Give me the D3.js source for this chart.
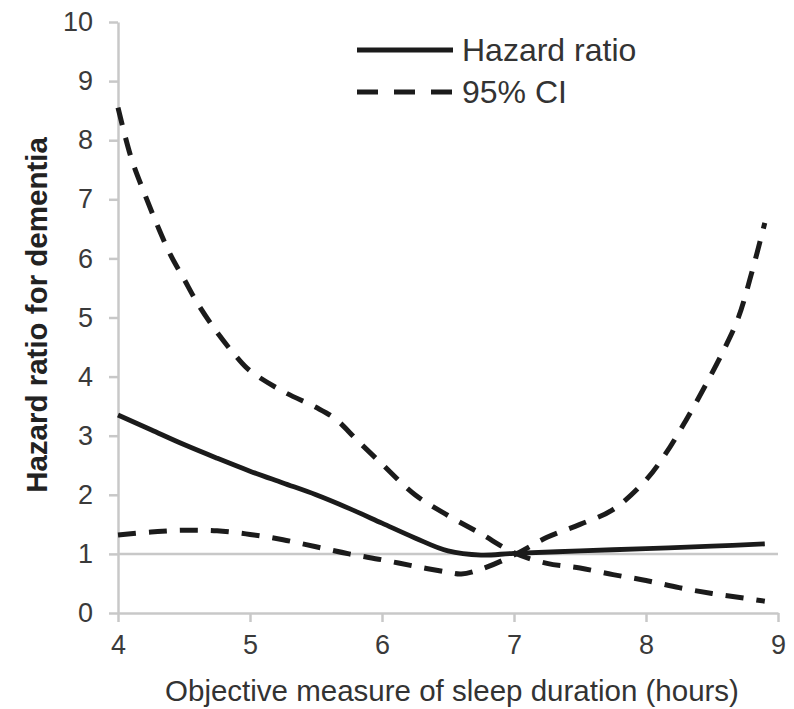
<!DOCTYPE html>
<html>
<head>
<meta charset="utf-8">
<script src="https://cdn.jsdelivr.net/npm/d3@7"></script>
<style>
  body { margin: 0; background: #fff; }
  #chart svg { display: block; }
</style>
</head>
<body>
<div id="chart"></div>
<script>
// sleep duration (hours) for each curve
const hrHours = [4.0, 4.25, 4.5, 4.75, 5.0, 5.25, 5.5, 5.75, 6.0, 6.25, 6.5, 6.75, 7.0, 7.5, 8.0, 8.5, 8.9];
const hrValues = [3.35, 3.1, 2.85, 2.62, 2.4, 2.2, 2.0, 1.77, 1.52, 1.27, 1.05, 0.98, 1.01, 1.05, 1.09, 1.13, 1.17];

// dashed curve that starts high on the left (95% CI)
const ciHighHours = [4.0, 4.1, 4.2, 4.3, 4.4, 4.5, 4.6, 4.75, 4.9, 5.0, 5.25, 5.5, 5.65, 5.8, 6.0, 6.25, 6.5, 6.75, 7.0, 7.25, 7.5, 7.75, 8.0, 8.25, 8.5, 8.75, 8.9];
const ciHighValues = [8.55, 7.7, 7.1, 6.55, 6.05, 5.65, 5.25, 4.75, 4.33, 4.1, 3.75, 3.48, 3.28, 2.95, 2.52, 2.0, 1.65, 1.34, 1.02, 0.84, 0.76, 0.65, 0.55, 0.43, 0.33, 0.25, 0.2];

// dashed curve that starts low on the left (95% CI)
const ciLowHours = [4.0, 4.25, 4.5, 4.75, 5.0, 5.25, 5.5, 5.75, 6.0, 6.25, 6.5, 6.6, 6.75, 7.0, 7.25, 7.5, 7.75, 8.0, 8.15, 8.3, 8.45, 8.6, 8.7, 8.8, 8.9];
const ciLowValues = [1.32, 1.37, 1.4, 1.39, 1.33, 1.24, 1.12, 1.0, 0.9, 0.79, 0.69, 0.66, 0.74, 0.98, 1.28, 1.5, 1.75, 2.25, 2.7, 3.25, 3.85, 4.5, 5.0, 5.75, 6.6];

const xTicks = [4, 5, 6, 7, 8, 9];
const yTicks = [0, 1, 2, 3, 4, 5, 6, 7, 8, 9, 10];
const referenceValue = 1;

const legendLabels = ["Hazard ratio", "95% CI"];
const xTitle = "Objective measure of sleep duration (hours)";
const yTitle = "Hazard ratio for dementia";

function plotChart() {
    const width = 794;
    const height = 709;
    const margin = { top: 22, right: 16, bottom: 96, left: 118 };
    const innerW = width - margin.left - margin.right;
    const innerH = height - margin.top - margin.bottom;

    const font = "'Liberation Sans', Arial, sans-serif";
    const gridGray = "#c8c8c8";
    const ink = "#1b1b1b";

    const svg = d3.select("#chart").append("svg")
        .attr("width", width)
        .attr("height", height);

    const g = svg.append("g")
        .attr("transform", `translate(${margin.left},${margin.top})`);

    const x = d3.scaleLinear().domain([4, 9]).range([0, innerW]);
    const y = d3.scaleLinear().domain([0, 10]).range([innerH, 0]);

    // reference line at HR = 1
    g.append("line")
        .attr("x1", 0).attr("x2", innerW)
        .attr("y1", y(referenceValue)).attr("y2", y(referenceValue))
        .attr("stroke", gridGray).attr("stroke-width", 2.5);

    // axes
    const yAxis = g.append("g")
        .call(d3.axisLeft(y).tickValues(yTicks).tickFormat(d3.format("d"))
            .tickSize(9).tickSizeOuter(0).tickPadding(16));

    const xAxis = g.append("g")
        .attr("transform", `translate(0,${innerH})`)
        .call(d3.axisBottom(x).tickValues(xTicks).tickFormat(d3.format("d"))
            .tickSize(9).tickSizeOuter(0).tickPadding(13));

    [xAxis, yAxis].forEach(ax => {
        ax.select(".domain").attr("stroke", gridGray).attr("stroke-width", 2.5);
        ax.selectAll(".tick line").attr("stroke", gridGray).attr("stroke-width", 2.5);
        ax.selectAll(".tick text")
            .attr("fill", "#3a3a3a")
            .style("font-family", font)
            .style("font-size", "27px");
    });

    // curves
    const line = d3.line()
        .x(d => x(d[0]))
        .y(d => y(d[1]))
        .curve(d3.curveCatmullRom.alpha(0.5));

    const curves = [
        { pts: d3.zip(ciHighHours, ciHighValues), dash: "18,13" },
        { pts: d3.zip(ciLowHours, ciLowValues), dash: "18,13" },
        { pts: d3.zip(hrHours, hrValues), dash: null }
    ];

    g.append("g").selectAll("path")
        .data(curves)
        .enter()
        .append("path")
        .attr("d", d => line(d.pts))
        .attr("fill", "none")
        .attr("stroke", ink)
        .attr("stroke-width", d => d.dash ? 5 : 4.8)
        .attr("stroke-dasharray", d => d.dash)
        .attr("stroke-linecap", "butt");

    // legend
    const legend = svg.append("g").attr("transform", "translate(357,0)");
    const legendRows = [
        { label: legendLabels[0], y: 50, dash: null },
        { label: legendLabels[1], y: 92, dash: "21,16" }
    ];
    legendRows.forEach(r => {
        legend.append("line")
            .attr("x1", 0).attr("x2", 96)
            .attr("y1", r.y).attr("y2", r.y)
            .attr("stroke", ink)
            .attr("stroke-width", 5)
            .attr("stroke-dasharray", r.dash);
        legend.append("text")
            .attr("x", 105)
            .attr("y", r.y + 11)
            .attr("fill", "#333")
            .style("font-family", font)
            .style("font-size", "32px")
            .text(r.label);
    });

    // axis titles
    svg.append("text")
        .attr("x", 452)
        .attr("y", 701)
        .attr("text-anchor", "middle")
        .attr("fill", "#333")
        .style("font-family", font)
        .style("font-size", "29.5px")
        .text(xTitle);

    svg.append("text")
        .attr("transform", "translate(47,315) rotate(-90)")
        .attr("text-anchor", "middle")
        .attr("fill", "#222")
        .style("font-family", font)
        .style("font-size", "29.5px")
        .style("font-weight", "bold")
        .text(yTitle);
}

plotChart();
</script>
</body>
</html>
